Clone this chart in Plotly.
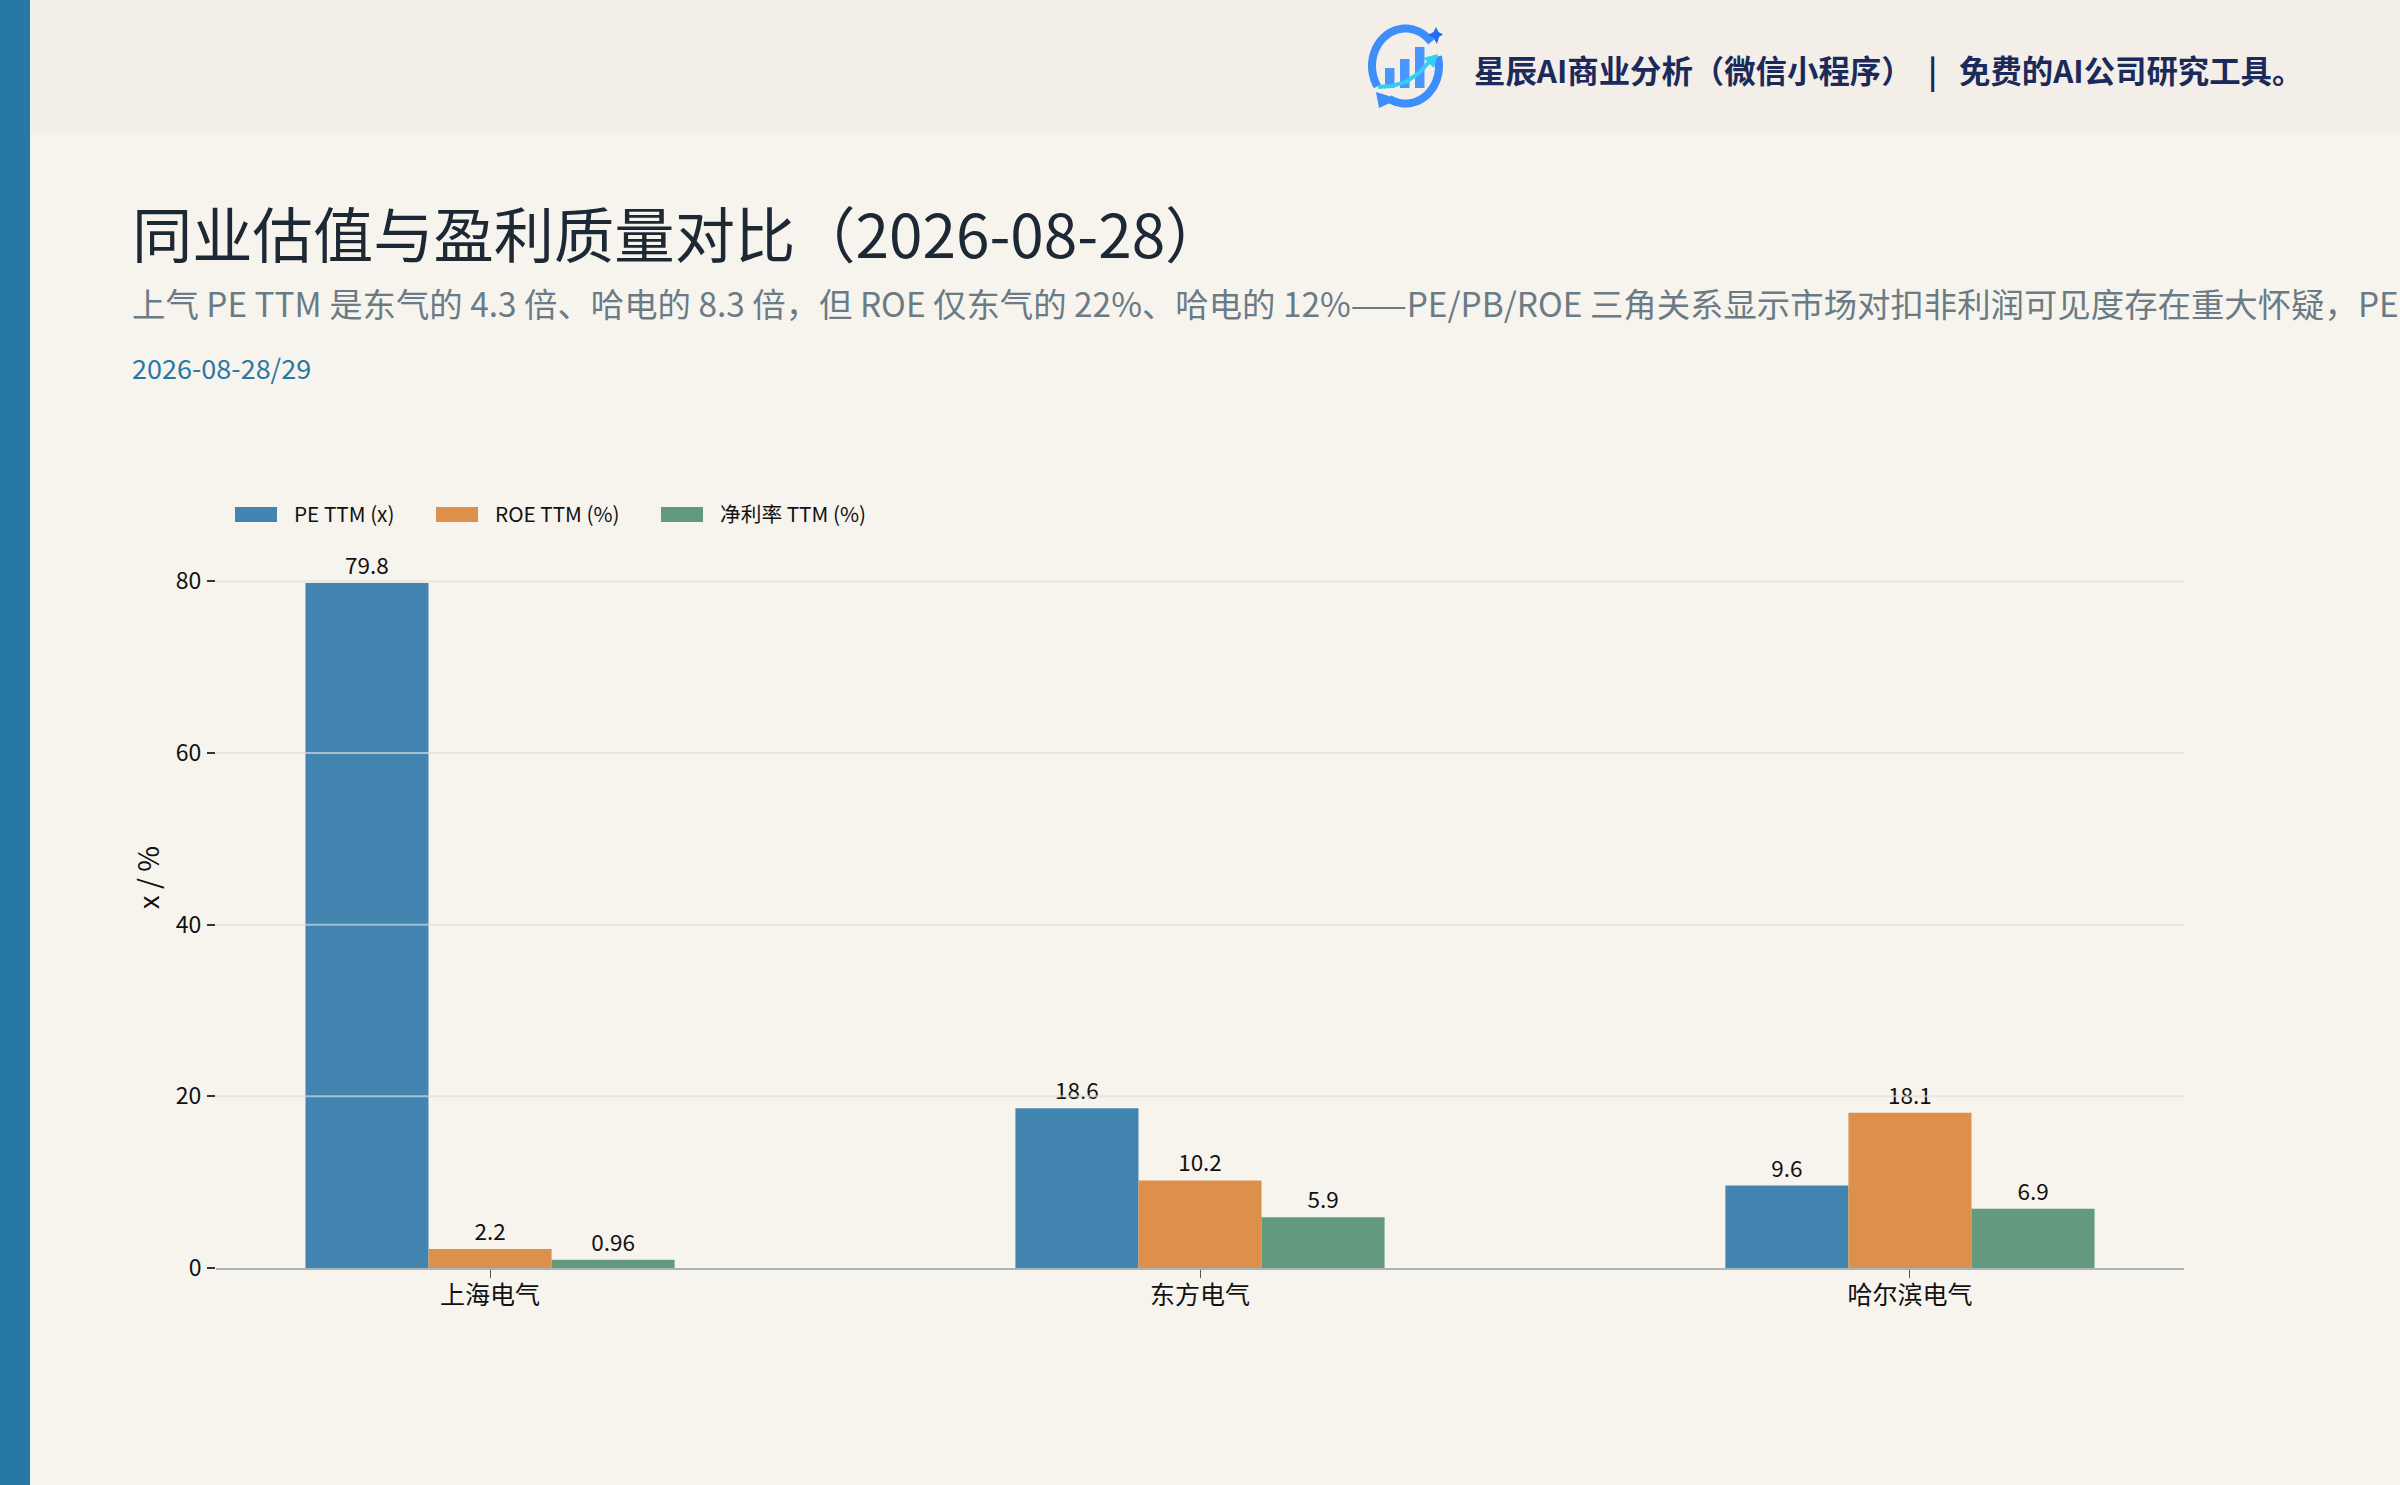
import numpy as np
import plotly.graph_objects as go

# Data
categories = ["上海电气", "东方电气", "哈尔滨电气"]
series_names = ["PE TTM (x)", "ROE TTM (%)", "净利率 TTM (%)"]
pe_ttm = [79.8, 18.6, 9.6]
roe_ttm = [2.2, 10.2, 18.1]
net_margin = [0.96, 5.9, 6.9]
pe_labels = ["79.8", "18.6", "9.6"]
roe_labels = ["2.2", "10.2", "18.1"]
margin_labels = ["0.96", "5.9", "6.9"]
y_ticks = [0, 20, 40, 60, 80]

title_text = "同业估值与盈利质量对比（2026-08-28）"
subtitle_text = ("上气 PE TTM 是东气的 4.3 倍、哈电的 8.3 倍，但 ROE 仅东气的 22%、哈电的 12%"
                 "——PE/PB/ROE 三角关系显示市场对扣非利润可见度存在重大怀疑，PE")
date_text = "2026-08-28/29"

colors = ["#4285B0", "#DD8F4C", "#63997F"]
font_cjk = "Noto Sans CJK SC"

# Plot box in page pixels
W, H = 2400, 1485
left, right, top, bottom = 216, 2184, 487, 1268


def px(x):
    return (x - left) / (right - left)


def py(y):
    return (bottom - y) / (bottom - top)


def rect(x0, y0, x1, y1, color, layer="below"):
    return dict(type="rect", xref="paper", yref="paper", x0=px(x0), x1=px(x1),
                y0=py(y0), y1=py(y1), fillcolor=color, line_width=0, layer=layer)


def path_of(points, close=False):
    s = "M" + "L".join(f"{px(a):.5f},{py(b):.5f}" for a, b in points)
    return s + ("Z" if close else "")


def text_at(x, y, text, size, color, weight=400, anchor="left"):
    return dict(xref="paper", yref="paper", x=px(x), y=py(y), text=text, showarrow=False,
                xanchor=anchor, yanchor="middle", borderpad=0,
                font=dict(family=font_cjk, size=size, color=color, weight=weight))


def arc(cx, cy, rx, ry, a0, a1, n=50):
    t = np.radians(np.linspace(a0, a1, n))
    return list(zip(cx + rx * np.cos(t), cy - ry * np.sin(t)))


fig = go.Figure()
for name, vals, labels, color in zip(series_names, [pe_ttm, roe_ttm, net_margin],
                                     [pe_labels, roe_labels, margin_labels], colors):
    fig.add_trace(go.Bar(x=categories, y=vals, name=name, text=labels, marker_color=color,
                         marker_line_width=0, textposition="outside", cliponaxis=False,
                         textangle=0, textfont=dict(family=font_cjk, size=22.5, color="#111111")))

shapes = [
    rect(0, 0, W, 135, "#F3EFE8"),
    rect(0, 0, 30, H, "#2878A6"),
]

# Grid sits above the bars in the reference
for t in y_ticks[1:]:
    shapes.append(dict(type="line", xref="paper", yref="y", x0=0, x1=1, y0=t, y1=t,
                       line=dict(color="rgba(221,221,220,0.66)", width=2), layer="above"))

# Legend
annotations = []
for x0, name, color in zip([235, 436, 661], series_names, colors):
    shapes.append(rect(x0, 507, x0 + 42, 522, color))
    annotations.append(text_at(x0 + 57.5, 512.5, name, 20.7, "#111111"))

# Logo
blue = "#3D8DFB"
ring_up = arc(1405.5, 66, 33.5, 37.5, 40, 213)
ring_low = arc(1405.5, 66, 33.5, 37.5, 241, 375)
shapes.append(dict(type="path", xref="paper", yref="paper", path=path_of(ring_up),
                   line=dict(color=blue, width=8)))
shapes.append(dict(type="path", xref="paper", yref="paper", path=path_of(ring_low),
                   line=dict(color=blue, width=8)))
shapes.append(dict(type="path", xref="paper", yref="paper", fillcolor=blue, line_width=0,
                   path=path_of([(1376, 92), (1392, 97), (1392, 102), (1379, 108)], True)))
shapes.append(dict(type="path", xref="paper", yref="paper", fillcolor="#1F6DF5", line_width=0,
                   path=path_of([(1436, 27), (1438.5, 32), (1443, 34.5), (1439, 37), (1437, 44),
                                 (1433.5, 38), (1428, 35), (1433.5, 32)], True)))
for x0, y0 in [(1385, 68), (1400, 59), (1415, 47)]:
    shapes.append(rect(x0, y0, x0 + 9.5, 88, "#4A96FF"))
shapes.append(dict(type="path", xref="paper", yref="paper", line=dict(color="#35CFEF", width=4),
                   path=path_of([(1378, 87), (1392, 86), (1406, 82), (1419, 73), (1430, 61)])))
shapes.append(dict(type="path", xref="paper", yref="paper", fillcolor="#35CFEF", line_width=0,
                   path=path_of([(1423, 58), (1438, 54), (1434, 68)], True)))

# Header and titles
navy = "#1B2A5A"
annotations += [
    text_at(1473, 69.5, "星辰AI商业分析（微信小程序）", 31.4, navy, 700),
    text_at(1927, 69.5, "|", 31.4, navy, 700),
    text_at(1958, 69.5, "免费的AI公司研究工具。", 31.4, navy, 700),
    text_at(131, 232, title_text, 60.3, "#1C2833"),
    text_at(131, 302.5, subtitle_text, 33.4, "#6B7B86"),
    text_at(131, 367.5, date_text, 27, "#2878A6"),
]

fig.update_layout(
    width=W, height=H, autosize=False,
    margin=dict(l=left, r=W - right, t=top, b=H - bottom, autoexpand=False),
    paper_bgcolor="#F7F4EE", plot_bgcolor="rgba(0,0,0,0)",
    barmode="group", bargap=0.48, bargroupgap=0, showlegend=False,
    font=dict(family=font_cjk, color="#111111"),
    shapes=shapes, annotations=annotations,
)
fig.update_xaxes(range=[-0.386, 2.386], showgrid=False, showline=True, linecolor="#A8B3BA",
                 linewidth=2, ticks="outside", ticklen=8, tickwidth=1, tickcolor="#555555",
                 tickfont=dict(size=25), ticklabelstandoff=-4, zeroline=False)
fig.update_yaxes(range=[0, 91], tickvals=y_ticks, showgrid=False, zeroline=False, showline=False,
                 ticks="outside", ticklen=8, tickwidth=2, tickcolor="#333333",
                 tickfont=dict(size=23), ticklabelstandoff=1,
                 title=dict(text="x / %", font=dict(size=28), standoff=8))

fig.write_html("out.html", config=dict(displayModeBar=False),
               post_script="document.body.style.margin='0';")
